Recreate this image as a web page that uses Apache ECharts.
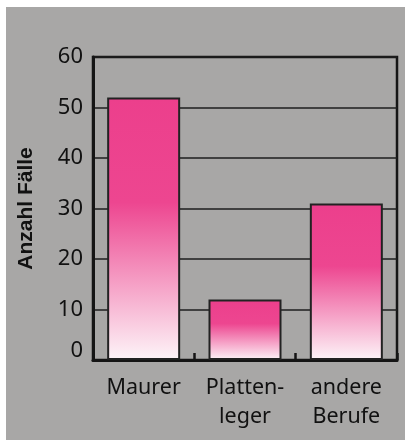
<!DOCTYPE html>
<html>
<head>
<meta charset="utf-8">
<script src="https://cdn.jsdelivr.net/npm/echarts@6/dist/echarts.min.js"></script>
<style>
  html, body { margin: 0; padding: 0; background: #ffffff; }
  #chart { width: 405px; height: 440px; }
</style>
</head>
<body>
<div id="chart"></div>
<script>
var categories = ['Maurer', 'Platten-\nleger', 'andere\nBerufe'];
var values = [52, 12, 31];
var yTicks = [0, 10, 20, 30, 40, 50, 60];
var yAxisTitle = 'Anzahl Fälle';

var chart = echarts.init(document.getElementById('chart'), null, { renderer: 'canvas' });

var barGradient = new echarts.graphic.LinearGradient(0, 0, 0, 1, [
  { offset: 0, color: '#ec3f8c' },
  { offset: 0.4, color: '#ed4690' },
  { offset: 1, color: '#fdf4f8' }
]);

var option = {
  backgroundColor: '#ffffff',
  animation: false,
  graphic: [{
    type: 'rect',
    z: -100,
    silent: true,
    shape: { x: 6, y: 7, width: 399, height: 433 },
    style: { fill: '#a8a7a6' }
  }],
  grid: {
    left: 93, right: 8, top: 57, bottom: 80,
    show: true,
    borderColor: '#151515',
    borderWidth: 2.5,
    backgroundColor: 'transparent'
  },
  xAxis: {
    type: 'category',
    data: categories,
    axisLine: { lineStyle: { color: '#151515', width: 3 } },
    axisTick: { show: true, inside: true, length: 7, lineStyle: { color: '#151515', width: 2.5 } },
    axisLabel: {
      color: '#111111',
      fontFamily: 'Noto Sans',
      fontSize: 21.5,
      lineHeight: 29,
      margin: 13,
      interval: 0
    }
  },
  yAxis: {
    type: 'value',
    min: yTicks[0],
    max: yTicks[yTicks.length - 1],
    interval: 10,
    name: yAxisTitle,
    nameLocation: 'middle',
    nameGap: 56,
    nameRotate: 90,
    nameTextStyle: {
      color: '#111111',
      fontFamily: 'Liberation Sans',
      fontWeight: 'bold',
      fontSize: 21
    },
    axisLine: { show: true, lineStyle: { color: '#151515', width: 3 } },
    axisTick: { show: false },
    splitLine: { show: true, lineStyle: { color: '#1e1e1e', width: 1.5 } },
    axisLabel: {
      color: '#111111',
      fontFamily: 'Noto Sans',
      fontSize: 22,
      margin: 10,
      formatter: function (v) { return v === 0 ? '{z|0}' : String(v); },
      rich: { z: { fontFamily: 'Noto Sans', fontSize: 22, color: '#111111', padding: [0, 0, 18, 0] } }
    }
  },
  series: [{
    type: 'bar',
    data: values,
    barWidth: 73,
    itemStyle: {
      color: barGradient,
      borderColor: '#222222',
      borderWidth: 2
    }
  }]
};

chart.setOption(option);
</script>
</body>
</html>
